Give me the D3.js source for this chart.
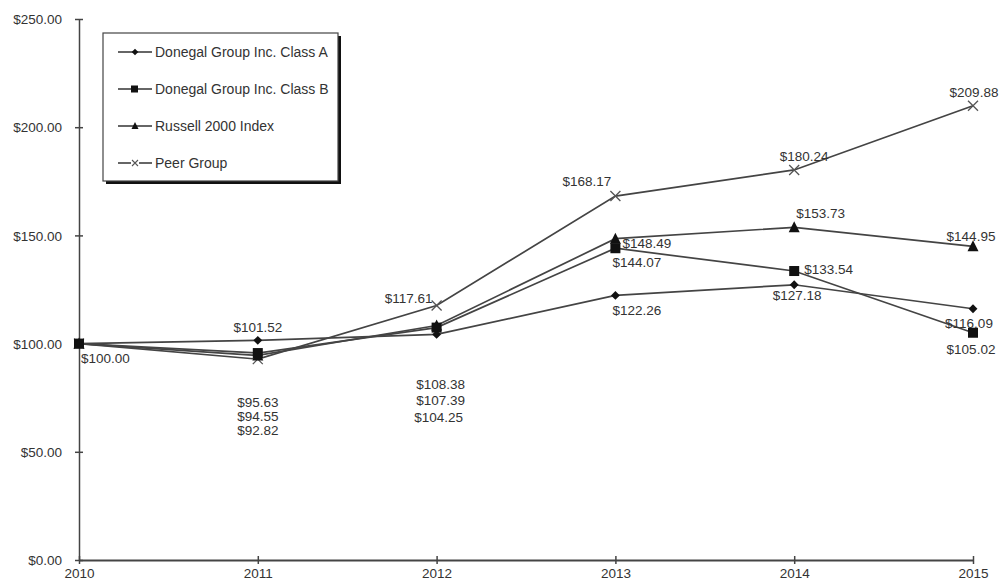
<!DOCTYPE html>
<html>
<head>
<meta charset="utf-8">
<script src="https://cdn.jsdelivr.net/npm/d3@7"></script>
<style>
  body { margin: 0; background: #fff; }
  svg text { font-family: "Liberation Sans", Arial, sans-serif; fill: #333; }
</style>
</head>
<body>
<div id="chart"></div>
<script>
// data
const years = [2010, 2011, 2012, 2013, 2014, 2015]
const seriesNames = ["Donegal Group Inc. Class A", "Donegal Group Inc. Class B", "Russell 2000 Index", "Peer Group"]
const classA = [100.00, 101.52, 104.25, 122.26, 127.18, 116.09]
const classB = [100.00, 95.63, 107.39, 144.07, 133.54, 105.02]
const russell = [100.00, 94.55, 108.38, 148.49, 153.73, 144.95]
const peer = [100.00, 92.82, 117.61, 168.17, 180.24, 209.88]
const yTicks = [0, 50, 100, 150, 200, 250]

// label placement (dx, dy, anchor) per point, layout only
const labelA = [[2, 19, "start"], [0, -8, "middle"], [2, 88, "middle"], [-3, 20, "start"], [3, 15, "middle"], [-4, 19, "middle"]]
const labelB = [null, [0, 54, "middle"], [4, 77, "middle"], [-3, 19, "start"], [10, 3, "start"], [-2, 21, "middle"]]
const labelR = [null, [0, 66, "middle"], [4, 64, "middle"], [7, 9, "start"], [2, -9, "start"], [-2, -5, "middle"]]
const labelP = [null, [0, 76, "middle"], [-4, -2, "end"], [-4, -10, "end"], [10, -9, "middle"], [1, -9, "middle"]]

const W = 1002, H = 582
const marginL = 79, marginR = 29, marginT = 19, marginB = 22

const svg = d3.select("#chart").append("svg")
    .attr("width", W)
    .attr("height", H)

const x = d3.scaleLinear().domain([2010, 2015]).range([marginL, W - marginR])
const y = d3.scaleLinear().domain([0, 250]).range([H - marginB, marginT])

const fmt = d => "$" + d3.format(",.2f")(d)

// axes
const yAxis = d3.axisLeft(y).tickValues(yTicks).tickFormat(fmt).tickSizeInner(4).tickSizeOuter(0)
svg.append("g")
    .attr("transform", `translate(${marginL},0)`)
    .call(yAxis)
    .call(g => g.select(".domain").attr("stroke", "#444").attr("stroke-width", 1.5))
    .call(g => g.selectAll(".tick line").attr("stroke", "#444").attr("stroke-width", 1.5).attr("x1", 4))
    .call(g => g.selectAll(".tick text").attr("x", -17).attr("dy", "0.35em")
        .style("font-size", "13.5px").style("font-family", "Liberation Sans, Arial, sans-serif").attr("fill", "#333"))

const xAxis = d3.axisBottom(x).tickValues(years).tickFormat(d3.format("d")).tickSizeInner(4).tickSizeOuter(0)
svg.append("g")
    .attr("transform", `translate(0,${y(0)})`)
    .call(xAxis)
    .call(g => g.select(".domain").attr("stroke", "#444").attr("stroke-width", 2))
    .call(g => g.selectAll(".tick line").attr("stroke", "#444").attr("stroke-width", 1.5).attr("y1", -4))
    .call(g => g.selectAll(".tick text").attr("y", 8).attr("dy", "0.71em")
        .style("font-size", "13.5px").style("font-family", "Liberation Sans, Arial, sans-serif").attr("fill", "#333"))

// series
const allSeries = [
    { name: seriesNames[0], values: classA, marker: "diamond", labels: labelA },
    { name: seriesNames[1], values: classB, marker: "square", labels: labelB },
    { name: seriesNames[2], values: russell, marker: "triangle", labels: labelR },
    { name: seriesNames[3], values: peer, marker: "cross", labels: labelP }
]

const line = d3.line()
    .x((d, i) => x(years[i]))
    .y(d => y(d))

function drawMarker(g, type, cx, cy) {
    switch (type) {
        case "diamond":
            g.append("path")
                .attr("d", d3.symbol(d3.symbolDiamond2, 50)())
                .attr("transform", `translate(${cx},${cy})`)
                .attr("fill", "#111")
            break
        case "square":
            g.append("rect")
                .attr("x", cx - 5).attr("y", cy - 5)
                .attr("width", 10).attr("height", 10)
                .attr("fill", "#111")
            break
        case "triangle":
            g.append("path")
                .attr("d", `M${cx},${cy - 6}L${cx + 5.5},${cy + 5}L${cx - 5.5},${cy + 5}Z`)
                .attr("fill", "#111")
            break
        default:
            g.append("path")
                .attr("d", `M${cx - 5},${cy - 5}L${cx + 5},${cy + 5}M${cx + 5},${cy - 5}L${cx - 5},${cy + 5}`)
                .attr("stroke", "#555")
                .attr("stroke-width", 1.3)
                .attr("fill", "none")
            break
    }
}

const plot = svg.append("g")

// lines first (peer drawn first so others sit on top)
allSeries.slice().reverse().forEach(s => {
    plot.append("path")
        .datum(s.values)
        .attr("d", line)
        .attr("fill", "none")
        .attr("stroke", "#444")
        .attr("stroke-width", 1.7)
})

allSeries.slice().reverse().forEach(s => {
    const mg = plot.append("g")
    s.values.forEach((v, i) => drawMarker(mg, s.marker, x(years[i]), y(v)))
})

// value labels
allSeries.forEach(s => {
    s.values.forEach((v, i) => {
        const p = s.labels[i]
        if (!p) return
        plot.append("text")
            .attr("x", x(years[i]) + p[0])
            .attr("y", y(v) + p[1])
            .attr("text-anchor", p[2])
            .style("font-size", "13.5px")
            .text(fmt(v))
    })
})

// legend
const lgX = 103, lgY = 33, lgW = 235, lgH = 148
const legend = svg.append("g")
legend.append("rect")
    .attr("x", lgX + 3).attr("y", lgY + 3)
    .attr("width", lgW).attr("height", lgH)
    .attr("fill", "#111")
legend.append("rect")
    .attr("x", lgX).attr("y", lgY)
    .attr("width", lgW).attr("height", lgH)
    .attr("fill", "#fff")
    .attr("stroke", "#444")
    .attr("stroke-width", 1.2)

const rowY = d3.scalePoint().domain(seriesNames).range([lgY + 19, lgY + 130])
allSeries.forEach(s => {
    const ry = rowY(s.name)
    legend.append("line")
        .attr("x1", lgX + 15).attr("x2", lgX + 49)
        .attr("y1", ry).attr("y2", ry)
        .attr("stroke", "#333").attr("stroke-width", 1.3)
    const mg = legend.append("g")
    if (s.marker === "square") {
        mg.append("rect").attr("x", lgX + 28).attr("y", ry - 3.5).attr("width", 7).attr("height", 7).attr("fill", "#111")
    } else if (s.marker === "diamond") {
        mg.append("path").attr("d", d3.symbol(d3.symbolDiamond2, 28)()).attr("transform", `translate(${lgX + 32},${ry})`).attr("fill", "#111")
    } else if (s.marker === "triangle") {
        mg.append("path").attr("d", `M${lgX + 32},${ry - 4}L${lgX + 35.5},${ry + 3}L${lgX + 28.5},${ry + 3}Z`).attr("fill", "#111")
    } else {
        legend.append("rect").attr("x", lgX + 28).attr("y", ry - 1).attr("width", 8).attr("height", 2).attr("fill", "#fff")
        mg.append("path").attr("d", `M${lgX + 29},${ry - 3}L${lgX + 35},${ry + 3}M${lgX + 35},${ry - 3}L${lgX + 29},${ry + 3}`)
            .attr("stroke", "#555").attr("stroke-width", 1.1).attr("fill", "none")
        mg.raise()
    }
    legend.append("text")
        .attr("x", lgX + 52)
        .attr("y", ry)
        .attr("dy", "0.35em")
        .style("font-size", "14px")
        .text(s.name)
})
</script>
</body>
</html>
